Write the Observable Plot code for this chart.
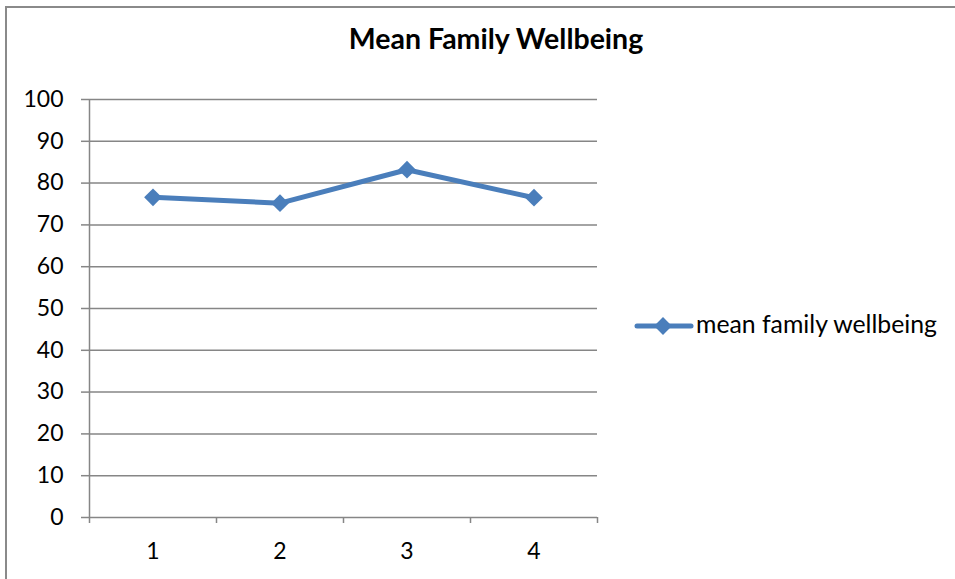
<!DOCTYPE html>
<html>
<head>
<meta charset="utf-8">
<script src="https://cdn.jsdelivr.net/npm/d3@7"></script>
<script src="https://cdn.jsdelivr.net/npm/@observablehq/plot@0.6"></script>
<style>
  html, body { margin: 0; padding: 0; background: #fff; }
  #wrap { position: relative; width: 955px; height: 579px; overflow: hidden; font-family: Lato, "Open Sans", sans-serif; }
  #border { position: absolute; left: 5px; top: 6px; width: 1000px; height: 1000px; border-left: 2px solid #8a8a8a; border-top: 2px solid #8a8a8a; }
  #title { position: absolute; left: 0; width: 992px; top: 21px; text-align: center; font-weight: bold; font-size: 28.5px; color: #000; white-space: nowrap; }
  #legendSwatch { position: absolute; left: 634px; top: 316px; }
  #legendText { position: absolute; left: 696px; top: 309px; font-size: 24.8px; color: #000; white-space: nowrap; }
  #chart { position: absolute; left: 0; top: 0; }
</style>
</head>
<body>
<div id="wrap">
  <div id="border"></div>
  <div id="chart"></div>
  <div id="title">Mean Family Wellbeing</div>
  <div id="legendSwatch"></div>
  <div id="legendText"></div>
</div>
<script>
const categories = [1, 2, 3, 4];
const values = [76.6, 75.2, 83.2, 76.5];
const yTicks = [0, 10, 20, 30, 40, 50, 60, 70, 80, 90, 100];
const seriesName = "mean family wellbeing";

const data = categories.map((c, i) => ({x: c, y: values[i]}));
const bounds = [0.5, 1.5, 2.5, 3.5, 4.5];
const gray = "#868686";
const blue = "#4a7ebb";

const plot = Plot.plot({
  width: 955,
  height: 579,
  marginLeft: 89,
  marginRight: 358,
  marginTop: 99,
  marginBottom: 62,
  style: {fontFamily: "Lato, 'Open Sans', sans-serif", fontSize: "23px", background: "transparent", overflow: "visible"},
  x: {type: "linear", domain: [0.5, 4.5]},
  y: {domain: [0, 100]},
  marks: [
    Plot.gridY(yTicks, {stroke: gray, strokeOpacity: 1, strokeWidth: 1.5}),
    Plot.axisY(yTicks, {tickSize: 8, tickPadding: 18, stroke: gray, strokeWidth: 1.5, fontSize: 23, label: null}),
    Plot.ruleX([0.5], {y1: 0, y2: 100, stroke: gray, strokeWidth: 1.5}),
    Plot.axisX(bounds, {tickSize: 6, tickFormat: () => "", stroke: gray, strokeWidth: 1.5, label: null}),
    Plot.axisX(categories, {tickSize: 0, tickPadding: 25, fontSize: 23, label: null, tickFormat: d => String(d)}),
    Plot.line(data, {x: "x", y: "y", stroke: blue, strokeWidth: 5, strokeLinejoin: "round"}),
    Plot.dot(data, {x: "x", y: "y", symbol: "diamond2", r: 8, fill: blue, stroke: "none"})
  ]
});
document.getElementById("chart").appendChild(plot);

// legend
const sw = d3.create("svg").attr("width", 60).attr("height", 20).style("overflow", "visible");
sw.append("line").attr("x1", 3).attr("x2", 57).attr("y1", 10).attr("y2", 10)
  .attr("stroke", blue).attr("stroke-width", 5).attr("stroke-linecap", "round");
sw.append("path").attr("d", d3.symbol(d3.symbolDiamond2, Math.PI * 64)()).attr("transform", "translate(29,10)").attr("fill", blue);
document.getElementById("legendSwatch").appendChild(sw.node());
document.getElementById("legendText").textContent = seriesName;
</script>
</body>
</html>
